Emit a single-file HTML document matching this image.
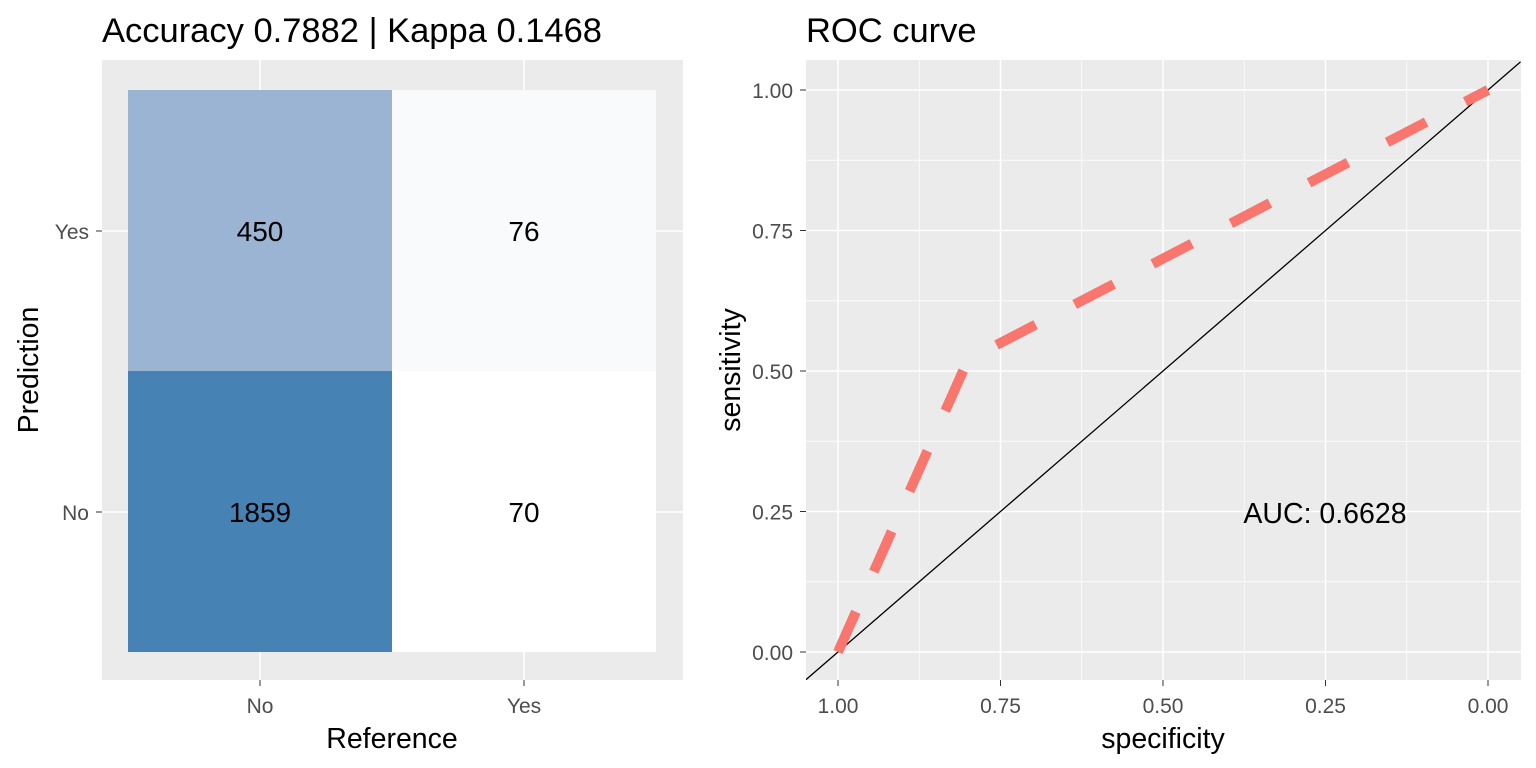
<!DOCTYPE html>
<html><head><meta charset="utf-8"><style>
body{margin:0;background:#fff;}
svg{display:block;font-family:"Liberation Sans",Arial,sans-serif;}
</style></head><body>
<svg id="c" width="1536" height="768" viewBox="0 0 1536 768"></svg>
<script>
const cmRows=["Yes","No"];
const cmCols=["No","Yes"];
const cmValues=[[450,76],[1859,70]];
const cmColors=[["#9bb4d3","#f9fafc"],["#4682b4","#ffffff"]];
const rocSpec=[1.0,0.80,0.0];
const rocSens=[0.0,0.52,1.0];
const rocTicks=[1.00,0.75,0.50,0.25,0.00];
const rocXTickLabels=["1.00","0.75","0.50","0.25","0.00"];
const rocYTickLabels=["0.00","0.25","0.50","0.75","1.00"];
const aucLabel="AUC: 0.6628";
const NS="http://www.w3.org/2000/svg";
const svg=document.getElementById('c');
function mk(tag,attrs,parent,text){const e=document.createElementNS(NS,tag);for(const k in attrs)e.setAttribute(k,attrs[k]);if(text!==undefined)e.textContent=text;(parent||svg).appendChild(e);return e;}

// Left panel
const L={x0:102,x1:683,y0:60,y1:680};
let e=mk('rect',{x:L.x0,y:L.y0,width:L.x1-L.x0,height:L.y1-L.y0,fill:'#ebebeb'});


const colX=i=>260+i*264, rowY=i=>231+i*281;
cmCols.forEach((c,i)=>{e=mk('line',{x1:colX(i),x2:colX(i),y1:L.y0,y2:L.y1,stroke:'#fff','stroke-width':1.5});});
cmRows.forEach((r,i)=>{e=mk('line',{x1:L.x0,x2:L.x1,y1:rowY(i),y2:rowY(i),stroke:'#fff','stroke-width':1.5});});
cmRows.forEach((r,ri)=>cmCols.forEach((c,ci)=>{
  e=mk('rect',{x:colX(ci)-132,y:rowY(ri)-141,width:264,height:281,fill:cmColors[ri][ci]});
  
  
  e=mk('text',{x:colX(ci),y:rowY(ri)+10,'text-anchor':'middle','font-size':28,fill:'#000'},svg,String(cmValues[ri][ci]));
  
  
}));
cmCols.forEach((c,i)=>{mk('line',{x1:colX(i),x2:colX(i),y1:680,y2:686,stroke:'#333','stroke-width':1});e=mk('text',{x:colX(i),y:713,'text-anchor':'middle','font-size':21,fill:'#4d4d4d'},svg,c);});
cmRows.forEach((r,i)=>{mk('line',{x1:96,x2:102,y1:rowY(i),y2:rowY(i),stroke:'#333','stroke-width':1});e=mk('text',{x:89,y:rowY(i)+8,'text-anchor':'end','font-size':21,fill:'#4d4d4d'},svg,r);});
e=mk('text',{x:392,y:748,'text-anchor':'middle','font-size':28.5},svg,'Reference');
e=mk('text',{x:38,y:370,'text-anchor':'middle','font-size':28.5,transform:'rotate(-90 38 370)'},svg,'Prediction');
e=mk('text',{x:102,y:42,'font-size':34.5},svg,'Accuracy 0.7882 | Kappa 0.1468');

// Right panel
const R={x0:806,x1:1521,y0:60,y1:680};
const sx=v=>1488-v*650, sy=v=>652-v*562;
e=mk('rect',{x:R.x0,y:R.y0,width:R.x1-R.x0,height:R.y1-R.y0,fill:'#ebebeb'});


const cp=mk('clipPath',{id:'rc'});mk('rect',{x:R.x0,y:R.y0,width:R.x1-R.x0,height:R.y1-R.y0},cp);
for(let i=0;i<4;i++){const m=(rocTicks[i]+rocTicks[i+1])/2;
  mk('line',{x1:sx(m),x2:sx(m),y1:R.y0,y2:R.y1,stroke:'#fff','stroke-width':0.7});
  mk('line',{x1:R.x0,x2:R.x1,y1:sy(m),y2:sy(m),stroke:'#fff','stroke-width':0.7});}
rocTicks.forEach((t,i)=>{
  e=mk('line',{x1:sx(t),x2:sx(t),y1:R.y0,y2:R.y1,stroke:'#fff','stroke-width':1.5});
  e=mk('line',{x1:R.x0,x2:R.x1,y1:sy(t),y2:sy(t),stroke:'#fff','stroke-width':1.5});
  mk('line',{x1:sx(t),x2:sx(t),y1:680,y2:686,stroke:'#333'});
  mk('line',{x1:800,x2:806,y1:sy(t),y2:sy(t),stroke:'#333'});
  e=mk('text',{x:sx(t),y:713,'text-anchor':'middle','font-size':21,fill:'#4d4d4d'},svg,rocXTickLabels[i]);
  e=mk('text',{x:793,y:sy(t)+8,'text-anchor':'end','font-size':21,fill:'#4d4d4d'},svg,rocXTickLabels[i]);
  
});
e=mk('line',{x1:sx(1.05),y1:sy(-0.05),x2:sx(-0.05),y2:sy(1.05),stroke:'#000','stroke-width':1.3,'clip-path':'url(#rc)'});

e=mk('polyline',{points:rocSpec.map((s,i)=>sx(s)+','+sy(rocSens[i])).join(' '),fill:'none',stroke:'#f8766d','stroke-width':10,'stroke-dasharray':'44,44','clip-path':'url(#rc)'});

e=mk('text',{x:1325,y:523,'text-anchor':'middle','font-size':28.5},svg,aucLabel);
e=mk('text',{x:1163,y:748,'text-anchor':'middle','font-size':28.5},svg,'specificity');
e=mk('text',{x:740,y:370,'text-anchor':'middle','font-size':28.5,transform:'rotate(-90 740 370)'},svg,'sensitivity');
e=mk('text',{x:806,y:42,'font-size':34.5},svg,'ROC curve');
</script>
</body></html>
